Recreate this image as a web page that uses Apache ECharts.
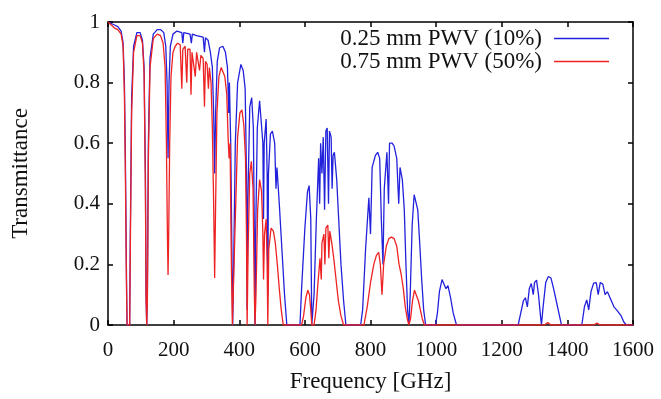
<!DOCTYPE html>
<html>
<head>
<meta charset="utf-8">
<script src="https://cdn.jsdelivr.net/npm/echarts@6/dist/echarts.min.js"></script>
<style>
html,body{margin:0;padding:0;background:#fff;}
#chart{width:661px;height:399px;}
</style>
</head>
<body>
<div id="chart"></div>
<script>
// Frequency [GHz], transmittance pairs
const blueData = [
[0,1.0],[10,0.995],[20,0.99],[30,0.985],[40,0.97],[46,0.93],[50,0.8],[53,0.55],[56,0.2],[58,0],[66,0],[68,0.3],[72,0.75],[78,0.92],[88,0.965],[98,0.965],[105,0.94],[110,0.85],[114,0.5],[116,0.1],[118,0],[120,0.1],[123,0.6],[128,0.88],[138,0.96],[150,0.975],[160,0.975],[170,0.965],[176,0.92],[180,0.8],[183,0.55],[186,0.8],[190,0.92],[198,0.96],[210,0.97],[225,0.965],[228,0.93],[231,0.965],[250,0.96],[254,0.93],[257,0.96],[270,0.955],[290,0.95],[294,0.9],[297,0.948],[305,0.94],[312,0.9],[318,0.85],[322,0.7],[325,0.5],[328,0.7],[333,0.87],[340,0.915],[350,0.92],[358,0.9],[364,0.85],[368,0.7],[370,0.8],[374,0.6],[378,0.2],[380,0],[383,0.2],[388,0.6],[395,0.8],[405,0.86],[412,0.84],[418,0.78],[422,0.5],[424,0.05],[426,0.4],[432,0.72],[438,0.75],[443,0.65],[446,0.3],[448,0],[450,0.3],[455,0.65],[462,0.74],[468,0.74],[472,0.6],[474,0.35],[476,0.6],[482,0.68],[485,0.5],[487,0.1],[489,0.5],[495,0.63],[501,0.64],[508,0.6],[512,0.45],[515,0.52],[522,0.4],[530,0.25],[538,0.1],[545,0],
[585,0],[590,0.12],[600,0.32],[608,0.44],[613,0.46],[618,0.35],[621,0],[625,0],[628,0.1],[635,0.35],[642,0.55],[645,0.4],[648,0.6],[652,0.5],[656,0.62],[660,0.38],[664,0.64],[668,0.65],[672,0.4],[675,0.64],[680,0.62],[683,0.45],[686,0.56],[690,0.57],[697,0.48],[703,0.35],[710,0.2],[718,0.08],[725,0],
[770,0],[776,0.05],[785,0.25],[795,0.42],[800,0.3],[805,0.52],[815,0.56],[822,0.57],[828,0.55],[833,0.35],[838,0.2],[842,0.45],[850,0.57],[855,0.4],[858,0.6],[866,0.6],[872,0.59],[880,0.55],[886,0.4],[890,0.52],[897,0.48],[903,0.38],[908,0.2],[913,0.05],[917,0],[921,0.1],[927,0.33],[933,0.43],[938,0.43],[944,0.38],[950,0.27],[956,0.15],[962,0.05],[968,0],
[998,0],[1004,0.04],[1010,0.11],[1018,0.15],[1024,0.15],[1030,0.12],[1036,0.13],[1044,0.09],[1052,0.04],[1062,0],
[1250,0],[1258,0.04],[1266,0.08],[1272,0.09],[1278,0.06],[1284,0.12],[1290,0.137],[1296,0.1],[1300,0.14],[1306,0.148],[1312,0.1],[1318,0.03],[1321,0],[1326,0.06],[1334,0.14],[1342,0.16],[1350,0.155],[1358,0.12],[1366,0.08],[1374,0.04],[1382,0],
[1444,0],[1452,0.06],[1459,0.083],[1465,0.05],[1472,0.11],[1480,0.138],[1488,0.14],[1494,0.1],[1500,0.14],[1508,0.135],[1515,0.1],[1522,0.11],[1530,0.09],[1536,0.09],[1542,0.06],[1550,0.05],[1556,0.05],[1564,0.03],[1572,0.01],[1580,0],[1600,0]
];
const redData = [
[0,1.0],[10,0.99],[20,0.98],[30,0.975],[40,0.96],[46,0.92],[50,0.76],[53,0.5],[56,0.15],[58,0],[66,0],[68,0.25],[72,0.7],[78,0.9],[88,0.955],[98,0.955],[105,0.93],[110,0.83],[114,0.45],[116,0.08],[118,0],[120,0.08],[123,0.55],[128,0.85],[138,0.945],[150,0.96],[160,0.955],[168,0.93],[174,0.85],[178,0.6],[181,0.3],[183,0.165],[185,0.3],[188,0.6],[192,0.82],[198,0.9],[205,0.92],[212,0.93],[220,0.925],[225,0.78],[228,0.91],[235,0.92],[240,0.8],[243,0.91],[250,0.91],[253,0.76],[256,0.9],[262,0.9],[266,0.82],[270,0.9],[275,0.9],[279,0.84],[283,0.89],[290,0.88],[294,0.72],[297,0.87],[302,0.86],[306,0.78],[309,0.85],[314,0.8],[318,0.65],[322,0.4],[325,0.155],[328,0.4],[332,0.7],[338,0.82],[345,0.85],[350,0.85],[356,0.82],[362,0.76],[366,0.62],[369,0.55],[372,0.6],[376,0.2],[379,0],[384,0],[388,0.35],[395,0.62],[402,0.7],[408,0.71],[414,0.66],[419,0.55],[422,0.3],[424,0],[427,0.25],[432,0.5],[437,0.54],[442,0.45],[446,0.1],[448,0],[451,0.1],[456,0.38],[462,0.48],[468,0.44],[472,0.3],[474,0.15],[477,0.3],[482,0.35],[485,0.2],[487,0],[490,0.25],[497,0.32],[504,0.31],[510,0.27],[516,0.2],[522,0.12],[528,0.05],[534,0],
[590,0],[596,0.03],[603,0.09],[609,0.115],[614,0.1],[618,0.05],[621,0],[628,0],[634,0.05],[640,0.14],[646,0.22],[650,0.15],[652,0.27],[658,0.3],[661,0.2],[664,0.32],[670,0.33],[673,0.22],[676,0.31],[682,0.27],[688,0.22],[695,0.15],[702,0.08],[710,0.03],[718,0],
[780,0],[790,0.06],[800,0.14],[810,0.2],[818,0.23],[825,0.24],[830,0.2],[835,0.1],[840,0.2],[848,0.26],[856,0.285],[864,0.29],[872,0.285],[880,0.26],[887,0.2],[893,0.17],[900,0.12],[906,0.06],[912,0.02],[917,0],[922,0.02],[928,0.08],[934,0.115],[940,0.11],[946,0.08],[952,0.05],[958,0.02],[964,0],
[1330,0],[1340,0.008],[1350,0],[1480,0],[1490,0.006],[1500,0],[1600,0]
];
const xTicks = [0,200,400,600,800,1000,1200,1400,1600];
const yTicks = [0,0.2,0.4,0.6,0.8,1];
const seriesNames = ['0.25 mm PWV (10%)','0.75 mm PWV (50%)'];

const font = 'Liberation Serif';
const chart = echarts.init(document.getElementById('chart'));
const axisCommon = {
  axisLine:{show:true,onZero:false,lineStyle:{color:'#000',width:1.5}},
  axisTick:{show:true,inside:true,length:5,lineStyle:{color:'#000',width:1.5}},
  splitLine:{show:false}
};
chart.setOption({
  animation:false,
  backgroundColor:'#fff',
  grid:{left:108,right:28,top:22,bottom:74},
  legend:{
    orient:'vertical',right:52,top:27,align:'right',padding:0,
    icon:'rect',itemWidth:55,itemHeight:1.5,itemGap:0,
    data:seriesNames,
    textStyle:{fontFamily:font,fontSize:23,lineHeight:20,color:'#111',padding:[0,7,0,0]}
  },
  xAxis:[
    Object.assign({type:'value',min:0,max:1600,interval:200,position:'bottom',
      name:'Frequency [GHz]',nameLocation:'middle',nameGap:45,
      nameTextStyle:{fontFamily:font,fontSize:23,color:'#111'},
      axisLabel:{fontFamily:font,fontSize:21,color:'#111',margin:15,
        formatter:v=>xTicks.includes(v)?String(v):''}},axisCommon),
    Object.assign({type:'value',min:0,max:1600,interval:200,position:'top',axisLabel:{show:false}},axisCommon)
  ],
  yAxis:[
    Object.assign({type:'value',min:0,max:1,interval:0.2,position:'left',
      name:'Transmittance',nameLocation:'middle',nameGap:76,
      nameTextStyle:{fontFamily:font,fontSize:23,color:'#111'},
      axisLabel:{fontFamily:font,fontSize:21,color:'#111',margin:8,
        formatter:v=>{const t=yTicks.find(u=>Math.abs(u-v)<1e-9);return t===undefined?'':String(t);}}},axisCommon),
    Object.assign({type:'value',min:0,max:1,interval:0.2,position:'right',axisLabel:{show:false}},axisCommon)
  ],
  series:[
    {name:seriesNames[0],type:'line',data:blueData,symbol:'none',xAxisIndex:0,yAxisIndex:0,
      lineStyle:{color:'#2222dd',width:1.3},itemStyle:{color:'#2222dd'},z:2},
    {name:seriesNames[1],type:'line',data:redData,symbol:'none',xAxisIndex:0,yAxisIndex:0,
      lineStyle:{color:'#ee2222',width:1.3},itemStyle:{color:'#ee2222'},z:3}
  ]
});
</script>
</body>
</html>
